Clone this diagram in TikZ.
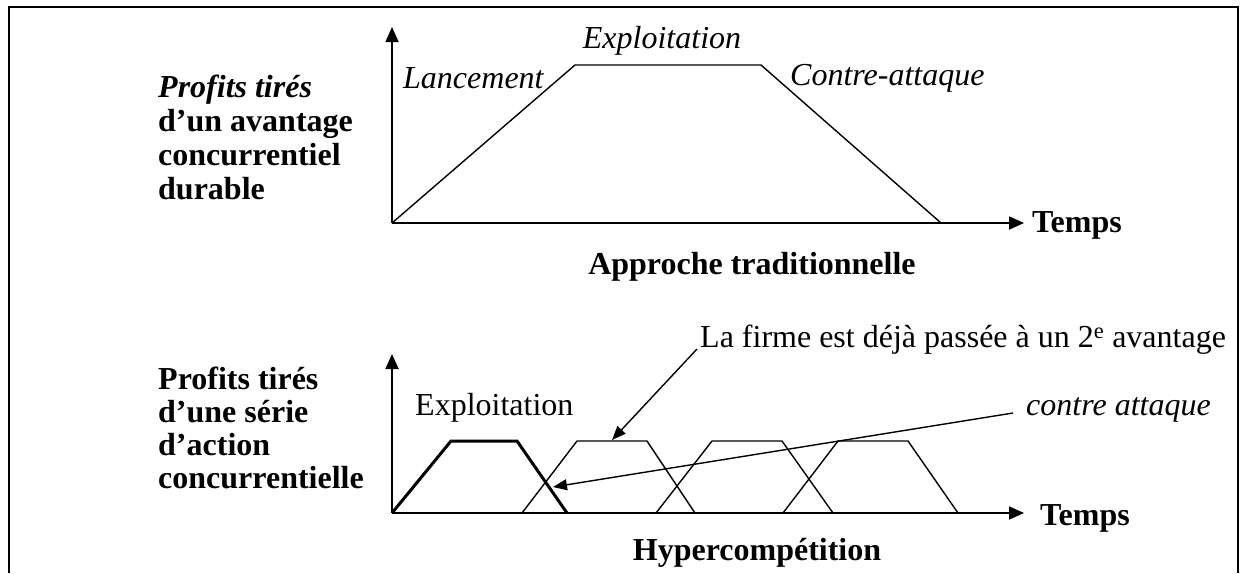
\documentclass[tikz,border=0pt]{standalone}
\usepackage{fontspec}
\setmainfont{Liberation Serif}
\usetikzlibrary{arrows.meta}
\begin{document}
\begin{tikzpicture}[x=1pt,y=-1pt,
  txt/.style={inner sep=0pt,font=\fontsize{32}{33}\selectfont},
  axis/.style={line width=1.8pt,-{Triangle[length=15pt,width=13pt]}},
  curve/.style={line width=1.4pt,line join=miter},
  boldcurve/.style={line width=3pt,line join=miter},
  leader/.style={line width=1.4pt,-{Triangle[length=14pt,width=11pt]}},
  label/.style={txt,align=left,anchor=west}]
\useasboundingbox (0,0) rectangle (1249,573);
% open frame
\draw[line width=2pt] (9,573) -- (9,7) -- (1238,7) -- (1238,573);

% ---- traditional approach ----
\coordinate (o1) at (392,223);
\coordinate (y1) at (392,27);
\coordinate (x1) at (1024,223);
\draw[axis] (o1) -- (y1);
\draw[axis] (o1) -- (x1);
\draw[curve] (o1) -- (575,65) -- (761,65) -- (941,223);
\node[label] (t1) at (1032,225) {\bfseries Temps};
\node[label] (lanc) at (403,78) {\itshape Lancement};
\node[txt] (expl1) at (662,41) {\itshape Exploitation};
\node[label] (contre1) at (790,78) {\itshape Contre-attaque};
\node[txt] (appr) at (752,267) {\bfseries Approche traditionnelle};
\node[txt,anchor=north west,align=left,font=\fontsize{32}{34}\selectfont\bfseries] (prof1) at (158,75)
  {\textit{Profits tirés}\\d’un avantage\\concurrentiel\\durable};

% ---- hypercompetition ----
\coordinate (o2) at (392,513);
\coordinate (y2) at (392,354);
\coordinate (x2) at (1024,513);
\draw[axis] (o2) -- (y2);
\draw[axis] (o2) -- (x2);
\draw[curve] (522,513) -- (577,441) -- (647,441) -- (695,513);
\draw[curve] (656,513) -- (712,441) -- (782,441) -- (833,513);
\draw[curve] (783,513) -- (838,441) -- (908,441) -- (958,513);
\draw[boldcurve] (o2) -- (451,441) -- (517,441) -- (567,513);
\node[label] (t2) at (1040,518) {\bfseries Temps};
\node[txt] (hyper) at (757,553) {\bfseries Hypercompétition};
\node[label] (expl2) at (415,408) {Exploitation};
\node[txt,anchor=north west,align=left,font=\fontsize{32}{33}\selectfont\bfseries] (prof2) at (158,367)
  {Profits tirés\\d’une série\\d’action\\concurrentielle};

% annotations
\node[label] (firme) at (700,340) {La firme est déjà passée à un 2\textsuperscript{e} avantage};
\coordinate (firmeA) at (697,349);
\coordinate (firmeB) at (612,440);
\draw[leader] (firmeA) -- (firmeB);
\node[label] (ca) at (1026,410) {\itshape contre attaque};
\coordinate (caA) at (1013,413);
\coordinate (caB) at (553,487);
\draw[leader] (caA) -- (caB);
\end{tikzpicture}
\end{document}
